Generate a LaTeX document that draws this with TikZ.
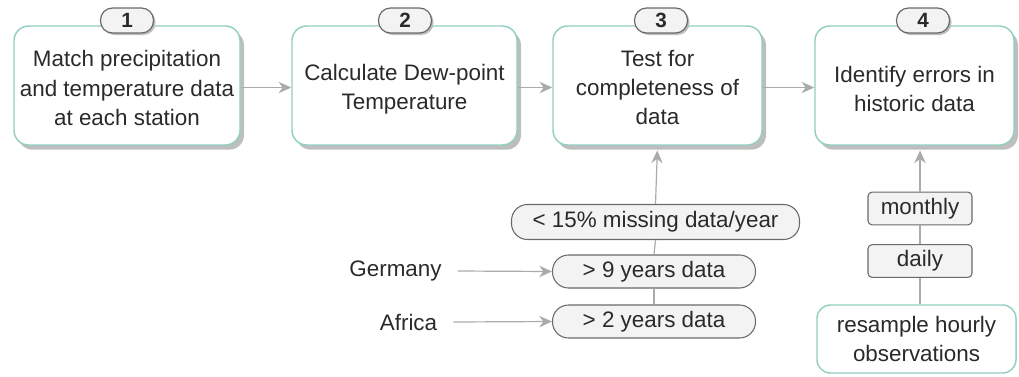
\documentclass[tikz,border=0pt]{standalone}
\usepackage{fontspec}
\setmainfont{Liberation Sans}
\usetikzlibrary{shadows,arrows.meta}
\definecolor{teal1}{HTML}{93CFC2}
\definecolor{txt}{HTML}{2A2A2A}
\definecolor{shd}{HTML}{BEBEBE}
\definecolor{pillfill}{HTML}{F3F3F3}
\definecolor{pilldraw}{HTML}{6A6A6A}
\definecolor{conn}{HTML}{ABABAB}
\tikzset{
  every node/.style={font=\fontsize{16.8}{22}\selectfont, text=txt},
  stepbox/.style={draw=teal1, line width=1.1pt, fill=white, rounded corners=11pt,
    align=center, inner sep=0pt,
    drop shadow={shadow xshift=3pt, shadow yshift=-3.5pt, fill=shd, opacity=1}},
  badge/.style={draw=pilldraw, line width=0.9pt, fill=pillfill, rounded corners=9pt,
    minimum width=39.75pt, minimum height=18.75pt, inner sep=0pt,
    font=\fontsize{15.5}{18}\selectfont\bfseries,
    drop shadow={shadow xshift=1.5pt, shadow yshift=-1.5pt, fill=shd, opacity=1}},
  pill/.style={draw=pilldraw, line width=0.8pt, fill=pillfill, rounded corners=12pt,
    inner sep=0pt},
  tag/.style={draw=pilldraw, line width=0.8pt, fill=pillfill, rounded corners=3pt,
    inner sep=0pt, minimum width=78pt, minimum height=24.5pt},
  plainbox/.style={draw=teal1, line width=1.1pt, fill=white, rounded corners=10pt,
    align=center, inner sep=0pt, minimum width=149.25pt, minimum height=51pt},
  lbl/.style={inner sep=0pt},
  side/.style={inner ysep=0pt, inner xsep=0pt, outer xsep=12.2pt, outer ysep=0pt},
  conn/.style={draw=conn, line width=0.9pt},
  arr/.style={conn, -{Stealth[length=9.5pt, width=8.5pt, inset=3pt]}, color=conn},
}
\begin{document}
\begin{tikzpicture}[x=0.75pt, y=-0.75pt]
\useasboundingbox (0,0) rectangle (1019,376);

% main step boxes
\node[stepbox, minimum width=169.5pt, minimum height=89.25pt] (b1) at (127,85.5) {};
\node[stepbox, minimum width=168.75pt, minimum height=89.25pt] (b2) at (404.5,85.5) {};
\node[stepbox, minimum width=156.75pt, minimum height=89.25pt] (b3) at (657.5,85.5) {};
\node[stepbox, minimum width=149.25pt, minimum height=89.25pt] (b4) at (914.5,85.5) {};

\node[lbl, align=center] (t1) at (127,88) {Match precipitation\\and temperature data\\at each station};
\node[lbl, align=center] (t2) at (404.5,89) {Calculate Dew-point\\Temperature};
\node[lbl, align=center] (t3) at (657.5,87.5) {Test for\\completeness of\\data};
\node[lbl, align=center] (t4) at (914.5,89) {Identify errors in\\historic data};

% badges
\node[badge] (n1) at (127,20.5) {1};
\node[badge] (n2) at (405,20.5) {2};
\node[badge] (n3) at (661,20.5) {3};
\node[badge] (n4) at (923,20.5) {4};

% flow arrows
\draw[arr] ([yshift=-1.5pt]b1.east) -- ([yshift=-1.5pt]b2.west);
\draw[arr] ([yshift=-1.5pt]b2.east) -- ([yshift=-1.5pt]b3.west);
\draw[arr] ([yshift=-1.5pt]b3.east) -- ([yshift=-1.5pt]b4.west);

% completeness criteria
\node[pill, minimum width=216pt, minimum height=26.25pt] (p1) at (655.5,222) {< 15\% missing data/year};
\node[pill, minimum width=152.25pt, minimum height=24.75pt] (p2) at (654,271.5) {> 9 years data};
\node[pill, minimum width=152.25pt, minimum height=24.75pt] (p3) at (654,321.5) {> 2 years data};
\draw[conn] (p3.north) -- (p2.south);
\draw[conn] (p2.north) -- (p1.south);
\draw[arr, shorten >=3.5pt] (p1.north) -- (b3.south);

\node[side] (ger) at (395.5,271) {Germany};
\node[side] (afr) at (408.5,322) {Africa};
\draw[arr] (ger.east) -- (p2.west);
\draw[arr] (afr.east) -- (p3.west);

% resampling
\node[tag] (mon) at (920,208.5) {monthly};
\node[tag] (day) at (920,261) {daily};
\node[plainbox] (res) at (916.5,339) {resample hourly\\observations};
\draw[conn] (res.north -| day.south) -- (day.south);
\draw[conn] (day.north) -- (mon.south);
\draw[arr, shorten >=3.5pt] (mon.north) -- (mon.north |- b4.south);
\end{tikzpicture}
\end{document}
